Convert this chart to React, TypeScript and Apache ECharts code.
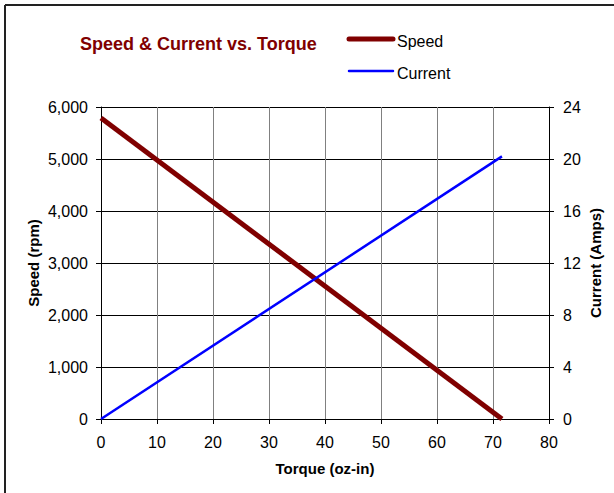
import React, { useEffect, useRef } from "react";
import * as echarts from "echarts";

const torque = [0, 71.6];
const speed = [5790, 0];
const current = [0, 20.2];

const xTicks = { min: 0, max: 80, interval: 10 };
const speedTicks = { min: 0, max: 6000, interval: 1000 };
const currentTicks = { min: 0, max: 24, interval: 4 };

const seriesNames = ["Speed", "Current"];
const seriesColors = ["#800000", "#0000ff"];

const FONT = "Liberation Sans, Arial, sans-serif";

export default function App() {
  const ref = useRef<HTMLDivElement>(null);
  useEffect(() => {
    const chart = echarts.init(ref.current!, null, { renderer: "svg" });
    const fmt = (v: number) => v.toLocaleString("en-US");
    const legendY = [39, 71];
    const legendW = [5, 2.5];
    const legendGraphics: any[] = [];
    seriesNames.forEach((n, i) => {
      legendGraphics.push({
        type: "line",
        shape: { x1: 349, y1: legendY[i], x2: 393, y2: legendY[i] },
        style: { stroke: seriesColors[i], lineWidth: legendW[i], lineCap: "round" },
      });
      legendGraphics.push({
        type: "text",
        x: 397,
        y: legendY[i] + 2,
        style: {
          text: n,
          fill: "#000",
          fontSize: 16,
          fontFamily: FONT,
          verticalAlign: "middle",
          align: "left",
        },
      });
    });
    chart.setOption({
      animation: false,
      backgroundColor: "#ffffff",
      textStyle: { fontFamily: FONT },
      title: {
        text: "Speed & Current vs. Torque",
        left: 75,
        top: 30,
        textStyle: { color: "#800000", fontSize: 18, fontWeight: "bold", fontFamily: FONT },
      },
      graphic: [
        { type: "line", shape: { x1: 5, y1: 5, x2: 614, y2: 5 }, style: { stroke: "#222", lineWidth: 2 } },
        { type: "line", shape: { x1: 5, y1: 5, x2: 5, y2: 493 }, style: { stroke: "#222", lineWidth: 2 } },
        ...legendGraphics,
      ],
      grid: { left: 101, right: 65, top: 107, bottom: 74 },
      xAxis: {
        type: "value",
        ...xTicks,
        name: "Torque (oz-in)",
        nameLocation: "middle",
        nameGap: 42,
        nameMoveOverlap: false,
        nameTextStyle: { fontSize: 15, fontWeight: "bold", color: "#000", fontFamily: FONT },
        axisLine: { show: true, lineStyle: { color: "#000", width: 1 } },
        axisTick: { show: true, length: 5, lineStyle: { color: "#000" } },
        axisLabel: { fontSize: 16, color: "#000", margin: 15, fontFamily: FONT },
        splitLine: { show: true, lineStyle: { color: "#808080", width: 1 } },
      },
      yAxis: [
        {
          type: "value",
          ...speedTicks,
          name: "Speed (rpm)",
          nameLocation: "middle",
          nameGap: 60,
          nameMoveOverlap: false,
          nameTextStyle: { fontSize: 15, fontWeight: "bold", color: "#000", fontFamily: FONT },
          axisLine: { show: true, lineStyle: { color: "#000", width: 1 } },
          axisTick: { show: true, length: 5, lineStyle: { color: "#000" } },
          axisLabel: { fontSize: 16, color: "#000", margin: 13, formatter: fmt, fontFamily: FONT },
          splitLine: { show: true, lineStyle: { color: "#000", width: 1 } },
        },
        {
          type: "value",
          ...currentTicks,
          position: "right",
          name: "Current (Amps)",
          nameLocation: "middle",
          nameGap: 39,
          nameMoveOverlap: false,
          nameTextStyle: { fontSize: 15, fontWeight: "bold", color: "#000", fontFamily: FONT },
          axisLine: { show: true, lineStyle: { color: "#000", width: 1 } },
          axisTick: { show: true, length: 5, lineStyle: { color: "#000" } },
          axisLabel: { fontSize: 16, color: "#000", margin: 14, fontFamily: FONT },
          splitLine: { show: false },
        },
      ],
      series: [
        {
          name: seriesNames[0],
          type: "line",
          yAxisIndex: 0,
          symbol: "none",
          lineStyle: { color: seriesColors[0], width: 5 },
          itemStyle: { color: seriesColors[0] },
          data: torque.map((t, i) => [t, speed[i]]),
        },
        {
          name: seriesNames[1],
          type: "line",
          yAxisIndex: 1,
          symbol: "none",
          lineStyle: { color: seriesColors[1], width: 2.5 },
          itemStyle: { color: seriesColors[1] },
          data: torque.map((t, i) => [t, current[i]]),
        },
      ],
    });
    return () => chart.dispose();
  }, []);
  return (
    <div
      ref={ref}
      style={{ position: "fixed", left: 0, top: 0, width: 614, height: 493 }}
    />
  );
}
